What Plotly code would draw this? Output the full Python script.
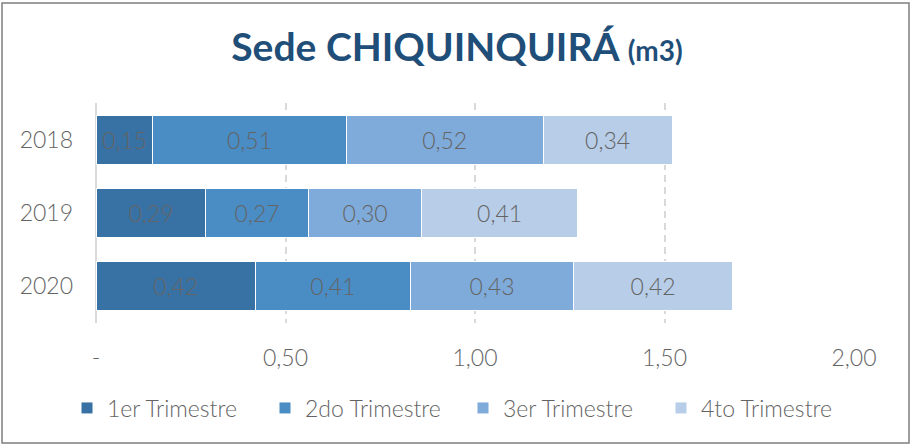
import plotly.graph_objects as go

# Consumption per quarter (m3) for the Chiquinquirá site
years = ["2018", "2019", "2020"]
q1 = [0.15, 0.29, 0.42]
q2 = [0.51, 0.27, 0.41]
q3 = [0.52, 0.30, 0.43]
q4 = [0.34, 0.41, 0.42]

series_names = ["1er Trimestre", "2do Trimestre", "3er Trimestre", "4to Trimestre"]
series_values = [q1, q2, q3, q4]
series_colors = ["#3872A5", "#4A8CC4", "#7FABDB", "#B7CDE8"]

tick_vals = [0, 0.5, 1.0, 1.5, 2.0]
tick_text = ["-", "0,50", "1,00", "1,50", "2,00"]

FONT = "Century Gothic, Lato, sans-serif"
GRAY = "#646464"

fig = go.Figure()
for name, vals, color in zip(series_names, series_values, series_colors):
    fig.add_trace(go.Bar(
        y=years, x=vals, name=name, orientation="h",
        marker=dict(color=color, line=dict(color="#ffffff", width=1)),
        text=[f"{v:.2f}".replace(".", ",") for v in vals],
        textposition="inside", insidetextanchor="middle",
        textfont=dict(family=FONT, size=23, color=GRAY, weight=300),
        constraintext="none",
    ))

L, R, T, B = 96, 57, 103, 122
W, H = 911, 445
pw, ph = W - L - R, H - T - B

fig.update_layout(
    width=W, height=H,
    barmode="stack", bargap=0.33,
    plot_bgcolor="white", paper_bgcolor="white",
    margin=dict(l=L, r=R, t=T, b=B, autoexpand=False),
    title=dict(
        text="<b>Sede CHIQUINQUIRÁ <span style='font-size:28px'>(m3)</span></b>",
        x=457 / W, xref="container", xanchor="center",
        y=1 - 47 / H, yanchor="middle",
        font=dict(family=FONT, size=39, color="#1F4E79"),
    ),
    xaxis=dict(
        range=[0, 2], tickvals=tick_vals, ticktext=tick_text,
        showgrid=True, gridcolor="#D9D9D9", griddash="7px,5px", gridwidth=2,
        zeroline=True, zerolinecolor="#D9D9D9", zerolinewidth=2,
        showline=False, ticks="", ticklabelstandoff=19,
        tickfont=dict(family=FONT, size=23, color=GRAY, weight=300),
        fixedrange=True,
    ),
    yaxis=dict(
        categoryorder="array", categoryarray=years, autorange="reversed",
        showgrid=False, showline=False, ticks="", ticklabelstandoff=22,
        tickfont=dict(family=FONT, size=23, color=GRAY, weight=300),
    ),
    legend=dict(
        orientation="h", x=(67 - L) / pw, xanchor="left",
        y=-(408 - (T + ph)) / ph, yanchor="middle",
        font=dict(family=FONT, size=23, color=GRAY, weight=300),
        itemwidth=30, traceorder="normal",
        entrywidth=153, entrywidthmode="pixels",
    ),
    showlegend=True,
    shapes=[dict(
        type="rect", xref="paper", yref="paper",
        x0=(2 - L) / pw, x1=(909 - L) / pw,
        y0=(T + ph - 443) / ph, y1=(T + ph - 3) / ph,
        line=dict(color="#7F7F7F", width=1.5), fillcolor="rgba(0,0,0,0)",
        layer="below",
    )],
)

fig.write_html("out.html")
